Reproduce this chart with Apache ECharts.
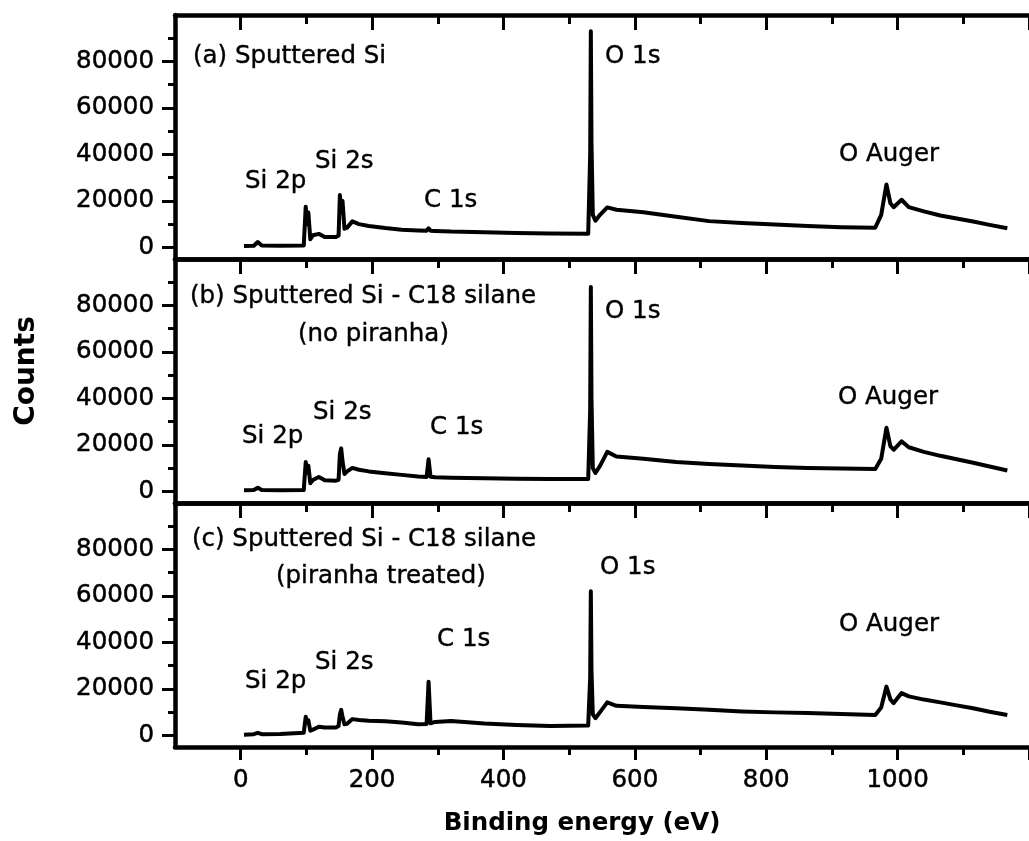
<!DOCTYPE html>
<html>
<head>
<meta charset="utf-8">
<title>XPS survey spectra</title>
<script src="https://cdn.jsdelivr.net/npm/echarts@6/dist/echarts.min.js"></script>
<style>
  html, body { margin: 0; padding: 0; background: #fff; }
  #chart { width: 1029px; height: 841px; }
</style>
</head>
<body>
<div id="chart"></div>
<script>
// Binding energies (eV) shared by the three survey spectra
const energy = [5, 20, 26, 32, 60, 96, 99, 101, 103, 106, 110, 119, 128, 145, 149, 151, 153, 155, 158, 162,
  170, 180, 195, 220, 245, 270, 283, 286, 289, 296, 320, 371, 420, 471, 529, 532, 533, 534, 536, 540,
  547, 558, 572, 613, 663, 713, 763, 813, 863, 914, 966, 975, 983, 989, 994, 1006, 1017, 1040, 1065, 1090,
  1115, 1140, 1167];

// (a) Sputtered Si
const countsA = [600, 700, 2300, 800, 700, 800, 17500, 10000, 15000, 3500, 5200, 5800, 4500, 4500, 5000, 22500, 15000, 20000, 8000, 8500,
  11200, 10000, 9200, 8300, 7600, 7300, 7200, 8200, 7200, 7100, 6800, 6500, 6200, 6000, 5900, 40000, 93000, 45000, 14000, 11500,
  14000, 17200, 16200, 15100, 13200, 11300, 10500, 9800, 9200, 8700, 8500, 14000, 27100, 19000, 17300, 20500, 17300, 15500, 13700, 12400,
  11100, 9700, 8200];

// (b) Sputtered Si - C18 silane, no piranha
const countsB = [500, 600, 1600, 600, 500, 600, 12600, 8000, 11000, 3500, 4900, 6200, 4800, 4600, 5000, 16000, 18500, 13000, 7500, 8600,
  10100, 9300, 8600, 7800, 7100, 6400, 6200, 13800, 6300, 6100, 5900, 5600, 5400, 5300, 5300, 35000, 88000, 40000, 10000, 7900,
  11000, 17000, 15000, 14000, 12600, 11800, 11100, 10500, 10100, 9800, 9600, 14000, 27400, 19500, 17900, 21500, 19000, 17000, 15300, 13800,
  12300, 10700, 9000];

// (c) Sputtered Si - C18 silane, piranha treated
const countsC = [300, 500, 1100, 500, 600, 1100, 8000, 5500, 6500, 2000, 2500, 3700, 3400, 3400, 4000, 9000, 11000, 8000, 4800, 5000,
  7000, 6600, 6300, 6100, 5500, 4800, 4900, 23100, 5200, 5800, 6200, 5100, 4500, 4000, 4300, 25000, 62000, 28000, 9000, 7400,
  10000, 14200, 12700, 12200, 11700, 11000, 10300, 9900, 9600, 9200, 8800, 12000, 21000, 15500, 13900, 18200, 16800, 15400, 14200, 12900,
  11700, 10200, 8800];

// Tick positions
const xMajorTicks = [0, 200, 400, 600, 800, 1000, 1200];
const xMinorTicks = [100, 300, 500, 700, 900, 1100];
const xLabelTicks = [0, 200, 400, 600, 800, 1000];
const yMajorTicks = [0, 20000, 40000, 60000, 80000];
const yMinorTicks = [10000, 30000, 50000, 70000, 90000];

// Peak labels for each panel: [text, left x, middle y]
const panelLabels = [
  [['(a) Sputtered Si', 193, 57], ['Si 2p', 245, 182], ['Si 2s', 315, 162], ['C 1s', 424, 201],
   ['O 1s', 605, 57], ['O Auger', 839, 155]],
  [['(b) Sputtered Si - C18 silane', 190, 297], ['(no piranha)', 298, 335], ['Si 2p', 242, 437],
   ['Si 2s', 313, 413], ['C 1s', 430, 428], ['O 1s', 605, 312], ['O Auger', 838, 398]],
  [['(c) Sputtered Si - C18 silane', 192, 540], ['(piranha treated)', 276, 577], ['Si 2p', 245, 682],
   ['Si 2s', 315, 663], ['C 1s', 437, 640], ['O 1s', 600, 568], ['O Auger', 839, 625]]
];

const spectra = [countsA, countsB, countsC];
const FONT = '"DejaVu Sans", "Liberation Sans", Arial, sans-serif';
const INK = '#000';

const panelTops = [15, 259, 503];
const panelHeight = 244;
const gridLeft = 175;
const gridWidth = 859;

const grids = panelTops.map(t => ({ left: gridLeft, top: t, width: gridWidth, height: panelHeight }));

const xAxes = [];
const yAxes = [];
const series = [];

panelTops.forEach((t, gi) => {
  const isLast = gi === panelTops.length - 1;
  const xBase = { gridIndex: gi, type: 'value', min: -100, max: 1200, interval: 100, splitLine: { show: false } };
  // bottom axis with major ticks (and labels on the last panel)
  xAxes.push(Object.assign({}, xBase, {
    position: 'bottom',
    axisLine: { show: true, onZero: false, lineStyle: { color: INK, width: 4.5 } },
    axisTick: { show: true, inside: false, length: 13, customValues: xMajorTicks, lineStyle: { color: INK, width: 3 } },
    axisLabel: { show: isLast, customValues: xLabelTicks, formatter: v => String(v),
      color: INK, fontFamily: FONT, fontSize: 24.5, margin: 21,
      textBorderColor: INK, textBorderWidth: 0.5 }
  }));
  // bottom minor ticks
  xAxes.push(Object.assign({}, xBase, {
    position: 'bottom',
    axisLine: { show: false, onZero: false },
    axisTick: { show: true, inside: false, length: 8, customValues: xMinorTicks, lineStyle: { color: INK, width: 3 } },
    axisLabel: { show: false }
  }));
  // top axis, ticks pointing into the panel
  xAxes.push(Object.assign({}, xBase, {
    position: 'top',
    axisLine: { show: true, onZero: false, lineStyle: { color: INK, width: 4.5 } },
    axisTick: { show: true, inside: true, length: 15, customValues: xMajorTicks, lineStyle: { color: INK, width: 3 } },
    axisLabel: { show: false }
  }));
  xAxes.push(Object.assign({}, xBase, {
    position: 'top',
    axisLine: { show: false, onZero: false },
    axisTick: { show: true, inside: true, length: 9, customValues: xMinorTicks, lineStyle: { color: INK, width: 3 } },
    axisLabel: { show: false }
  }));

  const yBase = { gridIndex: gi, type: 'value', min: -5000, max: 100000, interval: 5000, position: 'left', splitLine: { show: false } };
  yAxes.push(Object.assign({}, yBase, {
    axisLine: { show: true, onZero: false, lineStyle: { color: INK, width: 4.5 } },
    axisTick: { show: true, inside: false, length: 13, customValues: yMajorTicks, lineStyle: { color: INK, width: 3 } },
    axisLabel: { show: true, customValues: yMajorTicks, formatter: v => String(v),
      color: INK, fontFamily: FONT, fontSize: 24.5, margin: 21,
      textBorderColor: INK, textBorderWidth: 0.5 }
  }));
  yAxes.push(Object.assign({}, yBase, {
    axisLine: { show: false, onZero: false },
    axisTick: { show: true, inside: false, length: 7, customValues: yMinorTicks, lineStyle: { color: INK, width: 3 } },
    axisLabel: { show: false }
  }));

  series.push({
    type: 'line',
    xAxisIndex: gi * 4,
    yAxisIndex: gi * 2,
    data: energy.map((e, i) => [e, spectra[gi][i]]),
    showSymbol: false,
    symbol: 'none',
    lineStyle: { color: INK, width: 4, join: 'round' },
    silent: true,
    z: 1
  });
});

const graphics = [];
panelLabels.forEach(list => list.forEach(([text, x, y]) => {
  graphics.push({
    type: 'text', x: x, y: y, z: 10,
    style: { text: text, fill: INK, font: '24.5px ' + FONT, textAlign: 'left', textVerticalAlign: 'middle',
      stroke: INK, lineWidth: 0.4 }
  });
}));
// axis titles
graphics.push({
  type: 'text', x: 582, y: 824, z: 10,
  style: { text: 'Binding energy (eV)', fill: INK, font: 'bold 24.5px ' + FONT, textAlign: 'center', textVerticalAlign: 'middle' }
});
graphics.push({
  type: 'text', x: 27, y: 371, rotation: Math.PI / 2, z: 10,
  style: { text: 'Counts', fill: INK, font: 'bold 28px ' + FONT, textAlign: 'center', textVerticalAlign: 'middle' }
});

const chart = echarts.init(document.getElementById('chart'), null, { renderer: 'canvas' });
chart.setOption({
  animation: false,
  backgroundColor: '#fff',
  grid: grids,
  xAxis: xAxes,
  yAxis: yAxes,
  series: series,
  graphic: graphics
});
</script>
</body>
</html>
